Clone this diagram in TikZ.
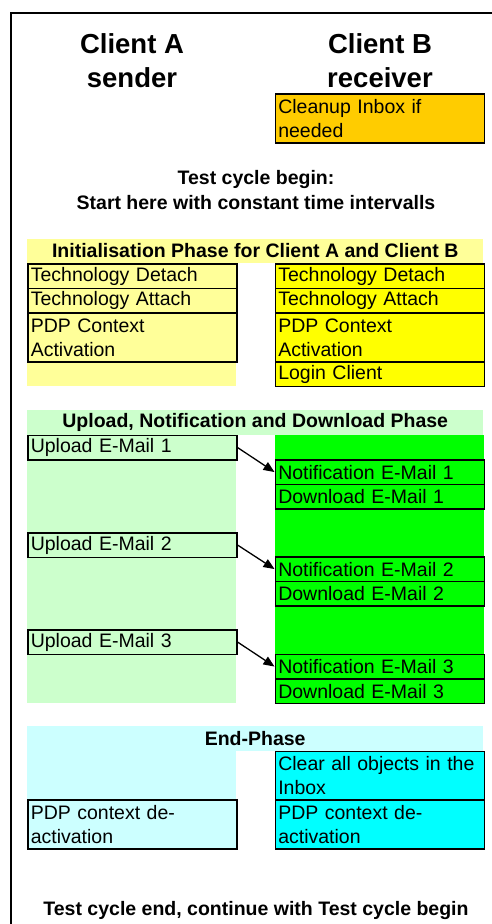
\documentclass[tikz,border=0pt]{standalone}
\usepackage{fontspec}
\setmainfont{Liberation Sans}
\usetikzlibrary{arrows.meta}
\definecolor{lyellow}{HTML}{FFFF99}
\definecolor{yellowc}{HTML}{FFFF00}
\definecolor{orangec}{HTML}{FFCC00}
\definecolor{lgreen}{HTML}{CCFFCC}
\definecolor{greenc}{HTML}{00FF00}
\definecolor{lcyan}{HTML}{CCFFFF}
\definecolor{cyanc}{HTML}{00FFFF}
\begin{document}
\begin{tikzpicture}[x=1pt,y=-1pt,
  box/.style={draw, line width=1.6pt, anchor=north west, inner xsep=3pt, inner ysep=0pt,
    text width=203pt, minimum height=24.5pt, align=left, font=\fontsize{19.5}{24}\selectfont},
  tallbox/.style={box, minimum height=49pt},
  band/.style={anchor=north west, minimum width=456pt, minimum height=24.5pt, inner sep=0pt,
    font=\bfseries\fontsize{19.5}{24}\selectfont},
  bgcol/.style={anchor=north west, inner sep=0pt, minimum width=209pt},
  title/.style={anchor=base, font=\bfseries\fontsize{27.5}{33}\selectfont},
  note/.style={anchor=base, font=\bfseries\fontsize{19.5}{24}\selectfont},
  msg/.style={-{Triangle[length=11pt,width=9pt]}, line width=1.3pt}
]
\useasboundingbox (0,0) rectangle (492,924);
\fill[white] (0,0) rectangle (492,924);
% frame
\coordinate (fbl) at (10.5,924);
\coordinate (ftl) at (10.5,13);
\coordinate (ftr) at (492,13);
\draw[line width=2pt] (fbl) -- (ftl) -- (ftr);

% titles
\node[title] (ta1) at (132,53) {Client A};
\node[title] (ta2) at (132,87) {sender};
\node[title] (tb1) at (380,53) {Client B};
\node[title] (tb2) at (380,87) {receiver};

\node[tallbox, fill=orangec] (clean) at (274.5,93) {Cleanup Inbox if\\needed};

\node[note] (beg1) at (256,184) {Test cycle begin:};
\node[note] (beg2) at (256,209) {Start here with constant time intervalls};

% Initialisation phase
\node[band, fill=lyellow] (inith) at (27,238.5) {Initialisation Phase for Client A and Client B};
\node[bgcol, fill=lyellow, minimum height=122.5pt] (initbg) at (27,263) {};
\node[box, fill=lyellow] (ad) at (27,263) {Technology Detach};
\node[box, fill=lyellow] (aa) at (27,287.5) {Technology Attach};
\node[tallbox, fill=lyellow] (ap) at (27,312) {PDP Context\\Activation};
\node[box, fill=yellowc] (bd) at (274.5,263) {Technology Detach};
\node[box, fill=yellowc] (ba) at (274.5,287.5) {Technology Attach};
\node[tallbox, fill=yellowc] (bp) at (274.5,312) {PDP Context\\Activation};
\node[box, fill=yellowc] (bl) at (274.5,361) {Login Client};

% Upload phase
\node[band, fill=lgreen] (uph) at (27,410) {Upload, Notification and Download Phase};
\node[bgcol, fill=lgreen, minimum height=268pt] (upbga) at (27,434.5) {};
\node[bgcol, fill=greenc, minimum height=268pt] (upbgb) at (274.5,434.5) {};
\node[box, fill=lgreen] (u1) at (27,434.5) {Upload E-Mail 1};
\node[box, fill=greenc] (n1) at (274.5,459) {Notification E-Mail 1};
\node[box, fill=greenc] (d1) at (274.5,483.5) {Download E-Mail 1};
\node[box, fill=lgreen] (u2) at (27,532) {Upload E-Mail 2};
\node[box, fill=greenc] (n2) at (274.5,556) {Notification E-Mail 2};
\node[box, fill=greenc] (d2) at (274.5,580.5) {Download E-Mail 2};
\node[box, fill=lgreen] (u3) at (27,629) {Upload E-Mail 3};
\node[box, fill=greenc] (n3) at (274.5,653.5) {Notification E-Mail 3};
\node[box, fill=greenc] (d3) at (274.5,678) {Download E-Mail 3};
\draw[msg] (u1.east) -- (n1.west);
\draw[msg] (u2.east) -- (n2.west);
\draw[msg] (u3.east) -- (n3.west);

% End phase
\node[band, fill=lcyan] (endh) at (27,726) {End-Phase};
\node[bgcol, fill=lcyan, minimum height=48pt] (endbg) at (27,751) {};
\node[tallbox, fill=lcyan] (ae) at (27,799) {PDP context de-\\activation};
\node[tallbox, fill=cyanc] (bc) at (274.5,750.5) {Clear all objects in the\\Inbox};
\node[tallbox, fill=cyanc] (be) at (274.5,799) {PDP context de-\\activation};

\node[note] (fin) at (256,915) {Test cycle end, continue with Test cycle begin};
\end{tikzpicture}
\end{document}
